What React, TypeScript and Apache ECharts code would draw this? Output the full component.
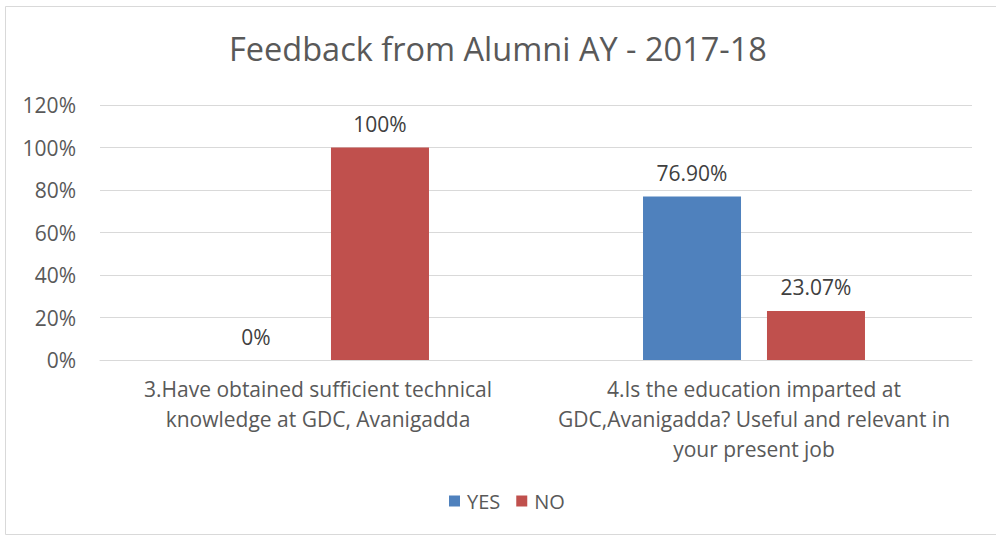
import React, { useEffect, useRef } from "react";
import * as echarts from "echarts";

const categories = [
  "3.Have obtained sufficient technical\nknowledge at GDC, Avanigadda",
  "4.Is the education imparted at\nGDC,Avanigadda? Useful and relevant in\nyour present job",
];
const yesValues = [0, 76.9];
const noValues = [100, 23.07];
const yesLabels = ["0%", "76.90%"];
const noLabels = ["100%", "23.07%"];
const yTicks = [0, 20, 40, 60, 80, 100, 120];

const FONT = "'Open Sans', sans-serif";

export default function App() {
  const ref = useRef<HTMLDivElement>(null);
  useEffect(() => {
    document.body.style.margin = "0";
    const chart = echarts.init(ref.current!, undefined, { renderer: "svg" });
    chart.setOption({
      animation: false,
      backgroundColor: "#ffffff",
      textStyle: { fontFamily: FONT },
      title: {
        text: "Feedback from Alumni AY - 2017-18",
        left: "center",
        top: 27,
        textStyle: { fontSize: 32.5, fontWeight: "normal", color: "#595959", fontFamily: FONT },
      },
      graphic: [
        {
          type: "rect",
          shape: { x: 5.5, y: 6.5, width: 1000, height: 528 },
          style: { fill: "none", stroke: "#d9d9d9", lineWidth: 1 },
          silent: true,
        },
      ],
      legend: {
        bottom: 22,
        left: 444,
        itemWidth: 11,
        itemHeight: 11,
        itemGap: 16,
        icon: "rect",
        textStyle: { fontSize: 20, color: "#595959", fontFamily: FONT, padding: [0, 0, 0, 2] },
        data: ["YES", "NO"],
      },
      grid: { left: 100, right: 24, top: 105, bottom: 178, containLabel: false },
      xAxis: {
        type: "category",
        data: categories,
        axisLine: { lineStyle: { color: "#d9d9d9" } },
        axisTick: { show: false },
        axisLabel: {
          interval: 0,
          fontSize: 21,
          lineHeight: 30,
          color: "#595959",
          margin: 14,
          fontFamily: FONT,
        },
      },
      yAxis: {
        type: "value",
        min: yTicks[0],
        max: yTicks[yTicks.length - 1],
        interval: 20,
        axisLine: { show: false },
        axisTick: { show: false },
        splitLine: { lineStyle: { color: "#d9d9d9" } },
        axisLabel: {
          formatter: (v: number) => v + "%",
          fontSize: 21,
          color: "#595959",
          margin: 24,
          fontFamily: FONT,
        },
      },
      series: [
        {
          name: "YES",
          type: "bar",
          data: yesValues,
          barWidth: 98,
          barGap: "26.5%",
          itemStyle: { color: "#4F81BD" },
          label: {
            show: true,
            position: "top",
            distance: 13,
            fontSize: 21,
            color: "#404040",
            fontFamily: FONT,
            formatter: (p: any) => yesLabels[p.dataIndex],
          },
        },
        {
          name: "NO",
          type: "bar",
          data: noValues,
          barWidth: 98,
          barGap: "26.5%",
          itemStyle: { color: "#C0504D" },
          label: {
            show: true,
            position: "top",
            distance: 13,
            fontSize: 21,
            color: "#404040",
            fontFamily: FONT,
            formatter: (p: any) => noLabels[p.dataIndex],
          },
        },
      ],
    });
    return () => chart.dispose();
  }, []);
  return <div ref={ref} style={{ width: 996, height: 538 }} />;
}
